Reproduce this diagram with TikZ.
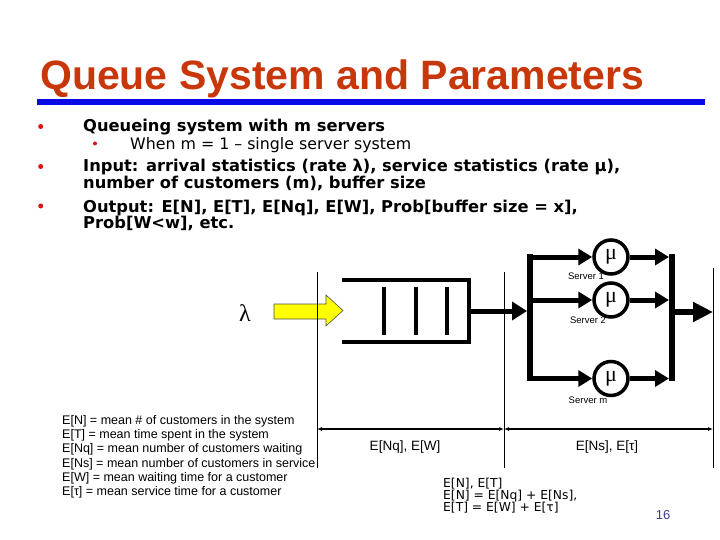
\documentclass[tikz,border=0pt]{standalone}
\usepackage{fontspec}
\setmainfont{Liberation Sans}
\newfontfamily\tahoma{DejaVu Sans}
\newfontfamily\greekserif{Liberation Serif}
\usepackage{tikz}
\usetikzlibrary{arrows.meta}
\definecolor{TitleRed}{RGB}{200,55,10}
\definecolor{BarBlue}{RGB}{10,10,230}
\definecolor{BulletRed}{RGB}{220,20,20}
\definecolor{ArrowYellow}{RGB}{255,255,0}
\definecolor{PageBlue}{RGB}{60,60,140}

\begin{document}
\begin{tikzpicture}[x=1pt,y=-1pt,>=Latex,
    bullet/.style={circle,fill=BulletRed,inner sep=0pt,minimum size=5pt},
    item/.style={anchor=base west,inner sep=0pt,font=\tahoma\bfseries\fontsize{16.3}{17}\selectfont},
    subitem/.style={anchor=base west,inner sep=0pt,font=\tahoma\fontsize{15.8}{17}\selectfont},
    server/.style={circle,draw,line width=3.5pt,minimum size=34pt,inner sep=0pt,
                   font=\greekserif\fontsize{22}{22}\selectfont},
    srvname/.style={font=\fontsize{9.5}{10}\selectfont},
    flow/.style={line width=5pt,-{Triangle[length=14pt,width=16pt]}},
    guide/.style={line width=0.9pt},
    span/.style={line width=1.3pt,{Latex[length=5pt,width=4pt]}-{Latex[length=5pt,width=4pt]}},
    measure/.style={font=\fontsize{13.5}{13.5}\selectfont},
    total/.style={anchor=base west,inner sep=0pt,font=\tahoma\fontsize{12.3}{12.3}\selectfont}]
  \useasboundingbox (0,0) rectangle (720,540);

  \node[anchor=base west,inner sep=0pt,font=\bfseries\fontsize{41}{41}\selectfont,TitleRed]
       (title) at (40,90) {Queue System and Parameters};
  \fill[BarBlue] (37,99) rectangle (705,105);

  \node[bullet] (b1) at (40.7,126.5) {};
  \node[item] (t1) at (83,132) {Queueing system with m servers};
  \node[bullet,minimum size=4pt] (b2) at (95,143.5) {};
  \node[subitem] (t2) at (130,150) {When m = 1 – single server system};
  \node[bullet] (b3) at (40.7,166.5) {};
  \node[item] (t3) at (83,172) {Input: arrival statistics (rate λ), service statistics (rate μ),};
  \node[item] (t3b) at (83,189) {number of customers (m), buffer size};
  \node[bullet] (b4) at (40.7,206) {};
  \node[item] (t4) at (83,212) {Output: E[N], E[T], E[Nq], E[W], Prob[buffer size = x],};
  \node[item] (t4b) at (83,229) {Prob[W<w], etc.};

  \node[font=\greekserif\fontsize{24}{24}\selectfont] (rate) at (245,313) {λ};
  \draw[fill=ArrowYellow,draw=black!70,line width=0.6pt]
       (274,304) -- (326,304) -- (326,295) -- (343,310.5) -- (326,326) -- (326,319) -- (274,319) -- cycle;

  \draw[guide] (317,272) -- (317,468);
  \draw[guide] (504,272) -- (504,468);
  \draw[guide] (713,268) -- (713,468);

  \draw[line width=3.5pt] (342,280) -- (469,280) -- (469,342) -- (342,342);
  \draw[line width=3.5pt] (384,287) -- (384,335);
  \draw[line width=3.5pt] (416,287) -- (416,335);
  \draw[line width=3.5pt] (447,287) -- (447,335);

  \coordinate (qout) at (469,311);
  \coordinate (forkIn) at (527,311);
  \draw[flow,-{Triangle[length=15pt,width=18pt]}] (qout) -- (forkIn);

  \draw[line width=6pt] (530,254) -- (530,381);
  \coordinate (forkA) at (530,257);
  \coordinate (forkB) at (530,300);
  \coordinate (forkM) at (530,378.5);

  \node[server] (sA) at (611,257) {μ};
  \node[server] (sB) at (611,300) {μ};
  \node[server] (sM) at (611,378.5) {μ};
  \node[srvname] (nA) at (586,276) {Server 1};
  \node[srvname] (nB) at (588,320) {Server 2};
  \node[srvname] (nM) at (588,400) {Server m};

  \draw[flow] (forkA) -- (sA);
  \draw[flow] (forkB) -- (sB);
  \draw[flow] (forkM) -- (sM);

  \draw[line width=6pt] (672,254) -- (672,381);
  \coordinate (joinA) at (669,257);
  \coordinate (joinB) at (669,300);
  \coordinate (joinM) at (669,378.5);
  \draw[flow] (sA) -- (joinA);
  \draw[flow] (sB) -- (joinB);
  \draw[flow] (sM) -- (joinM);

  \coordinate (joinOut) at (672,312);
  \coordinate (sink) at (713,312);
  \draw[flow,line width=5.5pt,-{Triangle[length=20pt,width=19pt]}] (joinOut) -- (sink);

  \coordinate (d0) at (317,429);
  \coordinate (d1) at (504,429);
  \coordinate (d2) at (713,429);
  \draw[span] (d0) -- (d1);
  \draw[span] (d1) -- (d2);
  \node[measure] (wq) at (405,447) {E[Nq], E[W]};
  \node[measure] (ws) at (607,447) {E[Ns], E[τ]};

  \node[anchor=north west,align=left,inner sep=0pt,
        font={\fontsize{12.5}{14.3}\selectfont}] (legend) at (62,415)
       {E[N] = mean \# of customers in the system\\
        E[T] = mean time spent in the system\\
        E[Nq] = mean number of customers waiting\\
        E[Ns] = mean number of customers in service\\
        E[W] = mean waiting time for a customer\\
        E[τ] = mean service time for a customer};

  \node[total] (tot1) at (443,487.5) {E[N], E[T]};
  \node[total] (tot2) at (443,499.5) {E[N] = E[Nq] + E[Ns],};
  \node[total] (tot3) at (443,511.5) {E[T] = E[W] + E[τ]};

  \node[font=\fontsize{13}{13}\selectfont,PageBlue] (page) at (663,515) {16};
\end{tikzpicture}
\end{document}
